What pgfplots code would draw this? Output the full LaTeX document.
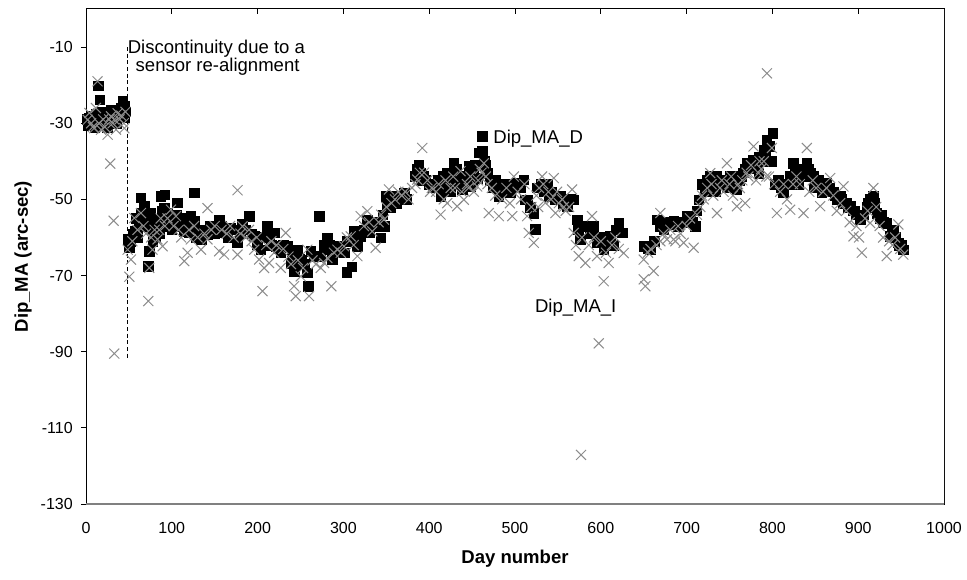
\documentclass[border=0pt]{standalone}
\usepackage{fontspec}
\setmainfont{Liberation Sans}
\usepackage{pgfplots}
\pgfplotsset{compat=1.18}
\definecolor{crossgray}{RGB}{140,140,140}
\definecolor{axgray}{RGB}{128,128,128}
\begin{document}
\begin{tikzpicture}
\begin{axis}[
 at={(0,0)}, anchor=south west,
 width=643.5pt, height=371.25pt, scale only axis,
 xmin=0, xmax=1000, ymin=-130, ymax=0,
 xtick={0,100,...,1000}, ytick={-130,-110,...,-10},
 xtick pos=upper, xticklabel pos=lower, ytick pos=left,
 tick align=inside, major tick length=3.75pt,
 ytick style={xshift=-3.75pt},
 tick style={black, line width=0.75pt},
 axis line style={black, line width=0.75pt},
 /pgf/number format/assume math mode=true,
 /pgf/number format/1000 sep={},
 ticklabel style={font=\fontsize{12}{14}\selectfont, inner sep=0pt},
 xticklabel style={anchor=center, yshift=-18pt},
 yticklabel style={anchor=east, xshift=-9.75pt},
 xlabel={Day number},
 xlabel style={font=\bfseries\fontsize{13.9}{16}\selectfont, at={(axis description cs:0.5,-0.1111)}, anchor=center},
 ylabel={Dip\_MA (arc-sec)},
 ylabel style={font=\bfseries\fontsize{13.9}{16}\selectfont, at={(axis description cs:-0.0734,0.5)}, anchor=center},
]
% Dip_MA_D (black squares)
\addplot[only marks, mark=square*, mark size=3.6pt, black] coordinates {
(1,-29) (2,-30.5) (3,-28.7) (5,-30) (6,-28) (7,-29) (9,-28) (10,-31) (11,-30.5) (12,-27.5) (13.5,-29.5) (14.3,-20.2) (16.2,-23.8) (18,-27)
(19,-30.5) (20,-29) (21.3,-30) (23,-28) (24,-29) (25,-31) (27,-27.5) (28,-30) (29.1,-26.5) (31,-29) (32,-28) (33,-29.1) (35,-27) (36,-30) (37,-28.5)
(38.8,-26.9) (40,-28) (41,-26) (42.7,-24.3) (44.7,-25.6) (45,-28.5) (46,-27)
(48.5,-60.4) (50.5,-62.7) (52,-61) (54.3,-59.2) (57,-58.4) (58,-55) (60,-60) (62,-57) (64,-49.6) (64,-53.6) (66,-55) (68,-51.8) (69,-54)
(70,-57) (72.6,-67.5) (73.7,-63.6) (74,-56) (75.7,-53.6) (77,-58) (78,-61) (79.6,-55.3) (81,-60) (83.4,-58) (85,-56) (86,-59) (87.3,-49.2)
(89,-53) (90,-55) (91.2,-52.3) (92,-48.8) (94,-57) (95,-53.6) (97,-56) (99,-54) (100,-58) (101,-55.7) (103,-57) (105,-54) (106.7,-50.9) (108.7,-57.1)
(111,-55) (113,-56) (114.5,-58.4) (117,-57) (119,-55) (120.3,-58.8) (122.2,-54.4) (124,-57) (126.1,-48.3) (126,-55.7) (128,-60) (130,-58) (133,-58) (134,-60.5) (137,-59)
(141.6,-59.2) (145,-57) (150,-59) (153.3,-58.8) (155.2,-55.3) (158,-57) (161,-58) (165,-60.1) (168,-57.5) (172.7,-58)
(176.6,-61.4) (180,-59) (182.4,-56.6) (186.3,-58) (190.1,-54.4) (193,-59) (196,-59.7) (199.8,-61.9) (203.7,-63.2) (207,-60)
(211.5,-57.1) (213.4,-60.1) (216,-62) (219.3,-58.8) (221,-62.3) (224,-63) (227,-64.0) (230,-62) (234.8,-62.3) (238.6,-66.7)
(240,-64) (242.5,-68.9) (246.4,-63.2) (248.4,-65.8) (251,-66) (254.2,-67.1) (258,-69.3) (258.8,-72.8) (262,-63.6) (266,-65)
(271.6,-54.4) (273.6,-64.9) (277,-62) (281.3,-60.1) (281.3,-63.2) (284,-62) (287.2,-65.8) (290,-64) (293,-62.3) (297,-63)
(300.7,-64) (303.8,-69.1) (304.6,-61) (309.7,-67.7) (312.4,-58.4) (314,-61) (316.3,-62.3) (320.1,-59.7) (324,-58) (327.9,-55.3)
(329.8,-58.8) (333,-57) (337.6,-57.1) (340,-56) (343.4,-60.1) (346,-54) (349.2,-49.2) (351.2,-51.8)
(347.3,-57.1) (351.2,-50.1) (355,-52) (358.9,-49.2) (362,-51) (365,-50) (368.6,-50.1) (370.6,-48.3) (374,-50) (383,-44) (386,-42)
(388,-40.9) (390,-43.1) (391,-45) (393,-44) (396,-45) (400,-46) (404,-47) (407.4,-47) (410,-45) (413.3,-49.2) (415.2,-46.1) (416,-44) (419,-48) (421,-43) (423,-47) (425,-48) (426,-45)
(428.8,-40.5) (430.7,-44) (432,-42) (434,-46) (437,-45) (438.5,-47.4) (442,-44) (444,-46) (446.2,-41.3) (448.2,-46.6) (450,-45) (452,-43) (454,-41) (455.9,-44.4) (457.9,-37.8) (459,-41)
(461.8,-37.4) (461.8,-33.4) (464,-40) (466,-41) (467.6,-43.1) (471,-45) (474,-47) (477.3,-44.8) (481.2,-49.2) (483.1,-47) (487,-46)
(490,-48) (494.7,-48.3) (498,-46) (502.5,-45.7) (506,-47) (510.3,-44.8) (512.2,-50.1) (514.1,-50.1) (518,-52) (521.9,-53.6)
(523.8,-57.9) (525.8,-47) (530,-46) (534,-48) (537.4,-46.1) (539.3,-49.2) (543,-48) (547,-50) (552.9,-49.2) (556,-51)
(560.7,-51.8) (565,-50) (568.5,-50.1) (572.3,-55.3) (574,-58) (576.2,-60.5) (580,-57) (584,-57.1) (588,-59) (591.7,-57.1)
(595.6,-61.4) (599,-60) (603.4,-63.2) (606,-61) (611.1,-59.7) (615,-62) (618,-58) (620.8,-56.2) (624.7,-58.8)
(650,-62.3) (651.9,-62.3) (655,-63) (657.7,-63.2) (662,-61) (665.5,-55.3) (669,-57) (673.3,-57.9) (677,-56) (681,-56.5)
(684.9,-55.7) (690,-57) (695,-56) (700.4,-54.4) (704,-55) (707,-56) (710.1,-57.1) (712,-53) (714,-50.1) (717.9,-46.1) (720,-46) (721,-48)
(724,-45) (726,-48) (727.6,-43.9) (730,-46) (733.4,-47.9) (735,-44) (737,-46) (740,-45) (743.1,-44.8) (745,-45) (747,-47) (750.9,-43.9) (752,-46) (754,-46) (756,-44)
(758.6,-47.4) (762,-45) (764,-44) (766,-43) (768,-42) (770.3,-40.5) (774,-42) (776,-41) (778,-39.6) (781,-42) (783.9,-43.1) (785,-39) (787,-40) (790,-37) (792,-38)
(793.6,-34.3) (795,-40) (797,-36) (800.5,-32.6) (799.4,-40) (803,-46) (807.1,-44.8) (810,-47) (813,-48.3) (817,-46) (821,-44)
(824.6,-40.5) (826,-43) (828.5,-45.7) (830,-46) (832,-43) (836,-42) (838,-44) (840.1,-40.5) (842,-42) (844,-43) (847.9,-44) (849,-47) (851,-46) (854,-45) (856,-46) (857.6,-48.3)
(860,-46) (863.4,-45.7) (865,-48) (867,-47) (871,-48) (873,-49) (875,-50) (878.9,-49.2) (880,-50) (882,-51) (886,-51) (888,-52) (890.5,-51.8) (894,-53)
(896,-53) (898,-54) (902.2,-55.3) (906,-54) (910,-52) (912,-51) (914,-50) (917.7,-49.2) (919,-51) (921.6,-53.6) (925,-55) (927,-54) (929,-56) (933.2,-56.2)
(937.1,-59.7) (939,-58) (941,-58) (944,-60) (946.8,-61.4) (948,-62) (950,-62) (952.6,-63.2)
};
% Dip_MA_I (grey crosses)
\addplot[only marks, mark=x, mark size=5.3pt, crossgray, mark options={line width=0.75pt}] coordinates {
(2,-29.1) (3.9,-27.3) (6,-30) (8,-31) (9.7,-31.3) (11.6,-26) (13.5,-19) (15,-30) (17.5,-31.7) (20,-29)
(22,-31) (25.2,-33) (27,-29) (28.3,-40.6) (29.1,-28.2) (31,-30) (33,-29) (35,-31.7) (36.9,-27.4) (39,-29)
(41,-28) (44,-30) (44.7,-31.3) (46,-27) (32.2,-55.6) (33,-90.5)
(48.5,-63.2) (50.5,-70.3) (52.4,-65.8) (54,-61) (56.3,-54.9) (60,-58) (64,-53.6) (67,-57) (70,-59) (72.6,-76.7)
(73.7,-68) (76,-60) (77.6,-63.2) (80,-58) (83.4,-60.5) (85.4,-58) (87,-55) (89.3,-62.3) (92,-57) (95,-55)
(99,-52.7) (102,-57) (104.8,-54.4) (108,-58) (111,-60) (114.5,-66.2) (118.4,-64) (120,-58) (122.2,-60.5) (126,-57)
(130,-60) (134,-63.2) (138,-59) (141.6,-52.3) (141.6,-60.5) (146,-58) (150,-57) (155.2,-63.6) (158,-58) (161,-64.5)
(164,-59) (168,-57) (172,-60) (176.6,-47.6) (176.6,-64.5) (180,-59) (182.4,-57.1) (186,-60) (190,-58) (193,-61)
(196,-63.2) (199,-60) (201.8,-65.8) (205.7,-74.1) (207.6,-68) (210,-62) (213.4,-66.7) (216,-61) (219.3,-64) (222,-62)
(227,-68) (230,-63) (232.8,-58.8) (236,-65) (239,-67) (242.5,-72.8) (244.5,-75.4) (247,-66) (250.3,-70.2) (253,-68)
(258,-63.2) (260,-75.4) (264,-66) (268,-67) (273.6,-68) (277.5,-66.7) (281.3,-65.4) (286,-72.8) (289,-64) (293,-63.2)
(297,-64) (300.7,-62.3) (304,-60) (308.5,-59.7) (312,-62) (316.3,-64.9) (320.1,-54.4) (324,-57) (327.9,-53.1) (330,-56)
(333.7,-58.4) (337.6,-62.7) (341,-56) (344,-54) (347.3,-55.3) (350,-52) (353.1,-47.4)
(356,-51) (360,-50) (364,-48) (368,-49) (372,-48) (376,-50) (380,-47) (384,-46) (386.1,-44.8) (389,-43) (391.9,-36.5) (394,-43)
(398,-45) (401,-48) (403,-47) (408,-48) (411,-46) (413.3,-54) (417,-50) (419,-45) (421,-51) (425,-47) (428,-44) (430,-47) (432.6,-51.8) (436.5,-42.6)
(438,-48) (440.4,-50.1) (444,-46) (446,-47) (448,-44) (452,-48) (455.9,-46.6) (457,-45) (459,-42) (461,-43) (463.7,-40.5) (466,-44) (468,-46) (469.5,-53.6) (473,-47)
(477,-49) (481.2,-54.4) (485,-50) (490,-47) (494,-51) (496.7,-54.4) (498.6,-44) (503,-48) (507,-50) (511,-46)
(514.1,-54.4) (516.1,-58.8) (519,-52) (521.9,-61.4) (525,-49) (527,-52) (528,-47) (531.6,-44) (533,-46) (535.5,-50.9) (539,-48) (542,-50)
(545.2,-44.4) (547.1,-53.6) (549,-48) (551,-51) (555,-50) (557,-52) (559,-53) (563,-52) (566.5,-47.4) (568.5,-58.8) (571,-62) (574.3,-64.9)
(577,-117.1) (578,-60) (582,-66.7) (586,-62) (589.8,-54.4) (592,-60) (595.6,-64.9) (597.6,-87.8) (600,-61) (603.4,-71.5)
(606,-64) (609.2,-66.7) (613,-62) (617,-60) (621,-63) (626.7,-64.1)
(650,-65.8) (650,-71) (651.9,-72.8) (655,-64) (658,-63) (661.6,-68.8) (665,-62) (669.4,-53.6) (669.4,-61) (673,-59)
(677.1,-60.5) (681,-58) (684.9,-60.5) (686.8,-61) (690,-57) (693,-59) (696.5,-61.4) (700,-57) (704,-55) (708.2,-62.7)
(712,-54) (716,-52) (718,-49) (720,-50) (724,-47) (727.6,-43.1) (729,-46) (731,-49) (735.4,-53.6) (739,-47) (741,-45) (743,-48) (747,-40.5)
(750,-46) (752,-44) (754,-49) (758.6,-51.8) (760,-46) (762,-47) (765,-45) (768.3,-51) (770,-43) (772,-44) (775,-41) (778,-36.1) (781,-45)
(783.9,-43.1) (785,-40) (787,-42) (790,-40) (793,-44) (793.6,-16.9) (796,-44) (799.4,-36.5) (802,-46) (805.2,-53.6) (809,-48) (813,-46)
(817,-50) (820.7,-52.7) (824,-46) (828,-44) (832,-46) (836.2,-53.6) (840.1,-36.5) (843,-48) (847,-45) (851,-47)
(855.7,-51.8) (859,-48) (863,-47) (867.3,-44.4) (871,-49) (875,-53) (879,-51) (882.8,-46.6) (886,-53) (890,-56)
(894.5,-59.7) (898,-57) (901,-60) (904.2,-64) (908,-55) (911,-53) (913.9,-56.2) (917.7,-47) (921,-52) (925,-57)
(929,-60) (933.2,-64.9) (936,-61) (940,-62) (943,-60) (946.8,-56.6) (949,-63) (952.6,-64.5)
};
% discontinuity marker
\addplot[black, line width=0.75pt, dash pattern=on 3pt off 2pt] coordinates {(48.6,-10) (48.6,-92)};
\draw[axgray, line width=0.75pt] (rel axis cs:1,0) -- (rel axis cs:1,1);
\draw[axgray, line width=1.5pt] (rel axis cs:0,0) -- (rel axis cs:1,0);
\node[anchor=base, inner sep=0pt, font=\fontsize{13.9}{16}\selectfont] at (axis cs:152,-11.6) {Discontinuity due to a};
\node[anchor=base, inner sep=0pt, font=\fontsize{13.9}{16}\selectfont] at (axis cs:153.4,-16.4) {sensor re-alignment};
\node[anchor=base west, inner sep=0pt, font=\fontsize{13.9}{16}\selectfont] at (axis cs:474.5,-35.2) {Dip\_MA\_D};
\node[anchor=base west, inner sep=0pt, font=\fontsize{13.9}{16}\selectfont] at (axis cs:523,-79.7) {Dip\_MA\_I};
\end{axis}
\pgfresetboundingbox
\path[use as bounding box] (-64.5pt,-56.25pt) rectangle (660.75pt,378pt);
\end{tikzpicture}
\end{document}
